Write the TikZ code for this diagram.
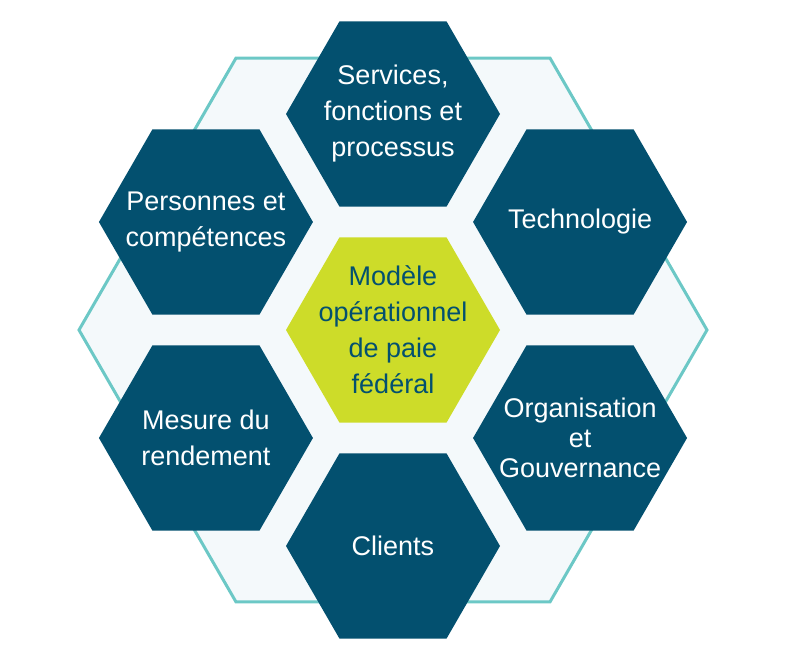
\documentclass[tikz,border=0pt]{standalone}
\usepackage{fontspec}
\setmainfont{Liberation Sans}
\usepackage{tikz}
\usetikzlibrary{shapes.geometric}
\definecolor{hexblue}{HTML}{03506F}
\definecolor{hexlime}{HTML}{CDDC29}
\definecolor{hexteal}{HTML}{6CC8C6}
\definecolor{hexback}{HTML}{F4F9FB}
\tikzset{
hexa/.style={regular polygon, regular polygon sides=6,
  minimum size=214pt, inner sep=0pt},
hextext/.style={align=center, inner sep=0pt},
}
\begin{document}
\begin{tikzpicture}[x=1pt,y=1pt]
\useasboundingbox (-393,-333) rectangle (393,330);
\node[hexa, minimum size=628pt, draw=hexteal, line width=3pt, fill=hexback] (outer) at (0,0) {};
\node[hexa, fill=hexlime, label={[hextext, name=coretext, text=hexblue,
  font=\fontsize{27}{36}\selectfont]center:{Modèle\\ opérationnel\\ de paie\\ fédéral}}] (core) at (0,0) {};
\foreach \a/\n/\s/\t in {90/serv/36/{Services,\\ fonctions et\\ processus},
  30/tech/36/{Technologie}, -30/orga/30/{Organisation\\ et\\ Gouvernance},
  -90/clie/36/{Clients}, 210/mesu/36/{Mesure du\\ rendement},
  150/pers/36/{Personnes et\\ compétences}} {
\node[hexa, fill=hexblue, label={[hextext, name=\n text, text=white,
  font=\fontsize{27}{\s}\selectfont]center:\t}] (\n) at (\a:216) {};}
\end{tikzpicture}
\end{document}
